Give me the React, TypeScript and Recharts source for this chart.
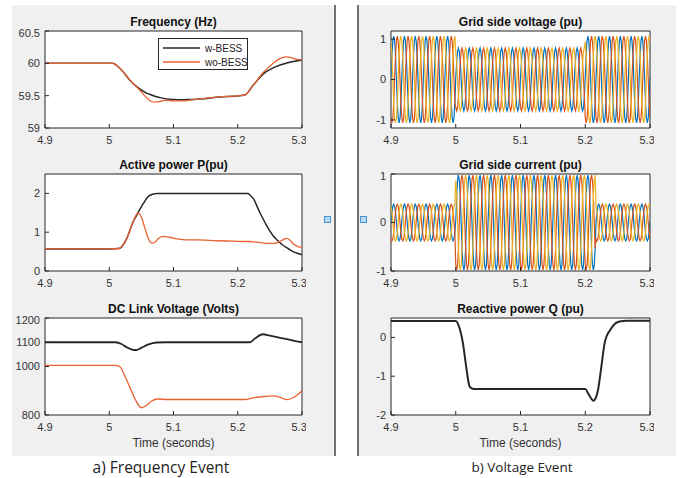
import React from "react"
import { LineChart, Line, XAxis, YAxis, ReferenceArea, Legend } from "recharts"

const FONT = "'Liberation Sans', Arial, Helvetica, sans-serif"
const TIME_TICKS = [4.9, 5, 5.1, 5.2, 5.3]

// a) frequency event
const FREQ_T = [4.9, 5.0, 5.005, 5.017, 5.032, 5.048, 5.058, 5.066, 5.071, 5.079, 5.089, 5.1, 5.11, 5.125, 5.141, 5.172, 5.203, 5.211, 5.224, 5.239, 5.255, 5.265, 5.275, 5.286, 5.293, 5.3]
const FREQ_W_BESS = [60, 60, 60, 59.92, 59.74, 59.6, 59.54, 59.51, 59.49, 59.47, 59.45, 59.44, 59.435, 59.44, 59.45, 59.48, 59.5, 59.51, 59.66, 59.83, 59.93, 59.97, 60.0, 60.03, 60.04, 60.05]
const FREQ_WO_BESS = [60, 60, 60, 59.92, 59.74, 59.58, 59.47, 59.41, 59.4, 59.41, 59.43, 59.42, 59.42, 59.43, 59.45, 59.48, 59.5, 59.51, 59.66, 59.85, 60.0, 60.07, 60.1, 60.08, 60.06, 60.05]

const P_T = [4.9, 5.0, 5.015, 5.027, 5.037, 5.042, 5.045, 5.048, 5.05, 5.055, 5.058, 5.06, 5.066, 5.071, 5.074, 5.076, 5.084, 5.094, 5.105, 5.12, 5.14, 5.167, 5.193, 5.216, 5.219, 5.224, 5.234, 5.245, 5.255, 5.26, 5.265, 5.27, 5.276, 5.281, 5.286, 5.294, 5.3]
const P_W_BESS = [0.57, 0.57, 0.58, 0.83, 1.26, 1.42, 1.51, 1.6, 1.66, 1.79, 1.87, 1.91, 1.97, 1.99, 2.0, 2.0, 2.0, 2.0, 2.0, 2.0, 2.0, 2.0, 2.0, 2.0, 1.96, 1.87, 1.52, 1.17, 0.91, 0.82, 0.74, 0.67, 0.6, 0.55, 0.5, 0.45, 0.42]
const P_WO_BESS = [0.57, 0.57, 0.58, 0.83, 1.26, 1.45, 1.5, 1.45, 1.39, 1.13, 0.97, 0.87, 0.72, 0.74, 0.79, 0.83, 0.89, 0.87, 0.83, 0.8, 0.8, 0.78, 0.77, 0.76, 0.76, 0.75, 0.74, 0.71, 0.71, 0.72, 0.76, 0.8, 0.84, 0.8, 0.7, 0.63, 0.61]

const DC_W_T = [4.9, 5.01, 5.019, 5.027, 5.037, 5.042, 5.05, 5.06, 5.074, 5.089, 5.219, 5.227, 5.239, 5.25, 5.27, 5.286, 5.3]
const DC_W_BESS = [1100, 1100, 1093, 1080, 1069, 1068, 1077, 1090, 1099, 1100, 1100, 1116, 1133, 1127, 1116, 1107, 1100]
const DC_WO_T = [4.9, 5.01, 5.017, 5.024, 5.032, 5.04, 5.048, 5.05, 5.058, 5.066, 5.076, 5.089, 5.211, 5.224, 5.245, 5.255, 5.265, 5.276, 5.286, 5.3]
const DC_WO_BESS = [1005, 1005, 998, 963, 915, 867, 833, 830, 840, 858, 866, 864, 864, 871, 877, 879, 874, 863, 871, 900]

// b) voltage event: one 60 Hz period sampled 12 times, and the peak of each of the 24 periods
const CYCLE_SHAPE = [0.05, 0.55, 0.92, 1.02, 0.9, 0.58, 0.02, -0.55, -0.9, -1.02, -0.92, -0.56]
const VOLT_PEAK = [1.05, 1.05, 1.05, 1.05, 1.05, 1.05, 0.76, 0.76, 0.76, 0.76, 0.76, 0.76, 0.76, 0.76, 0.76, 0.76, 0.76, 0.76, 1.05, 1.05, 1.05, 1.05, 1.05, 1.05]
const CURR_PEAK = [0.37, 0.37, 0.37, 0.37, 0.37, 0.37, 0.96, 0.96, 0.96, 0.96, 0.96, 0.96, 0.96, 0.96, 0.96, 0.96, 0.96, 0.96, 0.96, 0.37, 0.37, 0.37, 0.37, 0.37]
const PHASE_COLORS = ["#0072BD", "#D95319", "#EDB120"]
const PHASE_OFFSET = [0, 8, 4]

const Q_T = [4.9, 5.0, 5.005, 5.011, 5.016, 5.021, 5.024, 5.028, 5.2, 5.205, 5.213, 5.215, 5.22, 5.225, 5.23, 5.233, 5.238, 5.245, 5.253, 5.264, 5.3]
const Q_PU = [0.42, 0.42, 0.28, -0.14, -0.74, -1.25, -1.31, -1.33, -1.33, -1.46, -1.63, -1.6, -1.33, -0.74, -0.14, 0.03, 0.18, 0.34, 0.41, 0.43, 0.43]

const pts = (t: number[], v: number[]) => t.map((x, i) => ({ t: x, v: v[i] }))

const threePhase = (peak: number[]) => {
  const rows: Record<string, number>[] = []
  const n = CYCLE_SHAPE.length
  for (let i = 0; i <= peak.length * n; i++) {
    const c = Math.min(Math.floor(i / n), peak.length - 1)
    const row: Record<string, number> = { t: 4.9 + i / (60 * n) }
    PHASE_OFFSET.forEach((o, k) => (row["p" + k] = peak[c] * CYCLE_SHAPE[(i + o) % n]))
    rows.push(row)
  }
  return rows
}

const VOLT_DATA = threePhase(VOLT_PEAK)
const CURR_DATA = threePhase(CURR_PEAK)

const PLOT_W = [257, 259]
const PLOT_L = [45, 391]
const PLOT_T = [31, 174, 318]
const PLOT_H = 97
const BLACK = "#262626"
const ORANGE = "#E9622F"

const tickStyle = { fontSize: 11, fill: "#333", fontFamily: FONT }

function FreqLegend(props: any) {
  const items = props.payload || []
  return (
    <div style={{ width: 90, height: 32, boxSizing: "border-box", border: `1px solid ${BLACK}`, background: "#fff" }}>
      <svg width={88} height={30}>
        {items.map((it: any, i: number) => (
          <g key={i}>
            <line x1={4} x2={41} y1={9 + i * 14} y2={9 + i * 14} stroke={it.color} strokeWidth={1.5} />
            <text x={46} y={13 + i * 14} fontSize={10} fontFamily={FONT} fill="#222">{it.value}</text>
          </g>
        ))}
      </svg>
    </div>
  )
}

function Panel({ col, row, title, domain, ticks, xLabel, legend, children }: any) {
  const left = PLOT_L[col]
  const width = PLOT_W[col]
  const top = PLOT_T[row]
  const xh = xLabel ? 37 : 22
  return (
    <>
      <div style={{ position: "absolute", left, top: top - 17, width, textAlign: "center", fontFamily: FONT, fontWeight: "bold", fontSize: 12, lineHeight: "16px", color: "#111" }}>{title}</div>
      <div style={{ position: "absolute", left, top, width, height: PLOT_H, background: "#fff" }} />
      <div style={{ position: "absolute", left: left - 40, top: top - 4 }}>
        <LineChart width={width + 44} height={PLOT_H + 4 + xh} margin={{ top: 4, right: 4, bottom: 0, left: 0 }}>
          <XAxis
            dataKey="t"
            type="number"
            domain={[4.9, 5.3]}
            ticks={TIME_TICKS}
            allowDataOverflow
            height={xh}
            axisLine={false}
            tickSize={-4}
            tickMargin={12}
            tickLine={{ stroke: BLACK }}
            tick={tickStyle}
            label={xLabel ? { value: xLabel, position: "insideBottom", offset: 5, style: { fontSize: 12, fill: "#333", fontFamily: FONT } } : undefined}
          />
          <YAxis
            type="number"
            domain={domain}
            ticks={ticks}
            allowDataOverflow
            width={40}
            axisLine={false}
            tickSize={-4}
            tickMargin={9}
            tickLine={{ stroke: BLACK }}
            tick={tickStyle}
          />
          {children}
          <ReferenceArea x1={4.9} x2={5.3} y1={domain[0]} y2={domain[1]} fill="none" stroke={BLACK} strokeWidth={1} />
          {legend ? (
            <Legend layout="horizontal" verticalAlign="middle" align="center" wrapperStyle={{ left: 153, top: 11, width: 90, height: 32 }} content={FreqLegend} />
          ) : null}
        </LineChart>
      </div>
    </>
  )
}

export default function App() {
  return (
    <div style={{ position: "absolute", left: 0, top: 0, width: 685, height: 478, background: "#fff", overflow: "hidden" }}>
      <div style={{ position: "absolute", left: 12, top: 5, width: 322, height: 451, background: "#f0f0f0" }} />
      <div style={{ position: "absolute", left: 334, top: 5, width: 1.5, height: 451, background: "#707070" }} />
      <div style={{ position: "absolute", left: 357, top: 5, width: 319, height: 451, background: "#f0f0f0" }} />
      <div style={{ position: "absolute", left: 357, top: 5, width: 1.5, height: 451, background: "#707070" }} />
      <div style={{ position: "absolute", left: 324, top: 216, width: 5, height: 5, background: "#b9d8f2", border: "1px solid #4d94d4" }} />
      <div style={{ position: "absolute", left: 360, top: 216, width: 5, height: 5, background: "#b9d8f2", border: "1px solid #4d94d4" }} />

      <Panel col={0} row={0} title="Frequency (Hz)" domain={[59, 60.5]} ticks={[59, 59.5, 60, 60.5]} legend>
        <Line data={pts(FREQ_T, FREQ_W_BESS)} dataKey="v" name="w-BESS" type="monotone" stroke={BLACK} strokeWidth={1.5} dot={false} isAnimationActive={false} />
        <Line data={pts(FREQ_T, FREQ_WO_BESS)} dataKey="v" name="wo-BESS" type="monotone" stroke={ORANGE} strokeWidth={1.3} dot={false} isAnimationActive={false} />
      </Panel>
      <Panel col={0} row={1} title="Active power P(pu)" domain={[0, 2.5]} ticks={[0, 1, 2]}>
        <Line data={pts(P_T, P_W_BESS)} dataKey="v" name="w-BESS" type="monotone" stroke={BLACK} strokeWidth={1.5} dot={false} isAnimationActive={false} />
        <Line data={pts(P_T, P_WO_BESS)} dataKey="v" name="wo-BESS" type="monotone" stroke={ORANGE} strokeWidth={1.3} dot={false} isAnimationActive={false} />
      </Panel>
      <Panel col={0} row={2} title="DC Link Voltage (Volts)" domain={[800, 1200]} ticks={[800, 1000, 1100, 1200]} xLabel="Time (seconds)">
        <Line data={pts(DC_W_T, DC_W_BESS)} dataKey="v" name="w-BESS" type="monotone" stroke={BLACK} strokeWidth={1.8} dot={false} isAnimationActive={false} />
        <Line data={pts(DC_WO_T, DC_WO_BESS)} dataKey="v" name="wo-BESS" type="monotone" stroke={ORANGE} strokeWidth={1.3} dot={false} isAnimationActive={false} />
      </Panel>

      <Panel col={1} row={0} title="Grid side voltage (pu)" domain={[-1.2, 1.2]} ticks={[-1, 0, 1]}>
        {PHASE_COLORS.map((c, k) => (
          <Line key={k} data={VOLT_DATA} dataKey={"p" + k} type="linear" stroke={c} strokeWidth={1.2} dot={false} isAnimationActive={false} />
        ))}
      </Panel>
      <Panel col={1} row={1} title="Grid side current (pu)" domain={[-1, 1]} ticks={[-1, 0, 1]}>
        {PHASE_COLORS.map((c, k) => (
          <Line key={k} data={CURR_DATA} dataKey={"p" + k} type="linear" stroke={c} strokeWidth={1.2} dot={false} isAnimationActive={false} />
        ))}
      </Panel>
      <Panel col={1} row={2} title="Reactive power Q (pu)" domain={[-2, 0.5]} ticks={[-2, -1, 0]} xLabel="Time (seconds)">
        <Line data={pts(Q_T, Q_PU)} dataKey="v" type="monotone" stroke={BLACK} strokeWidth={2} dot={false} isAnimationActive={false} />
      </Panel>

      <div style={{ position: "absolute", left: 61, top: 457, width: 200, textAlign: "center", fontFamily: "'Open Sans', sans-serif", fontSize: 15.5, lineHeight: "20px", color: "#222" }}>a) Frequency Event</div>
      <div style={{ position: "absolute", left: 422, top: 458, width: 200, textAlign: "center", fontFamily: "'Open Sans', sans-serif", fontSize: 13.5, lineHeight: "18px", color: "#222" }}>b) Voltage Event</div>
    </div>
  )
}
